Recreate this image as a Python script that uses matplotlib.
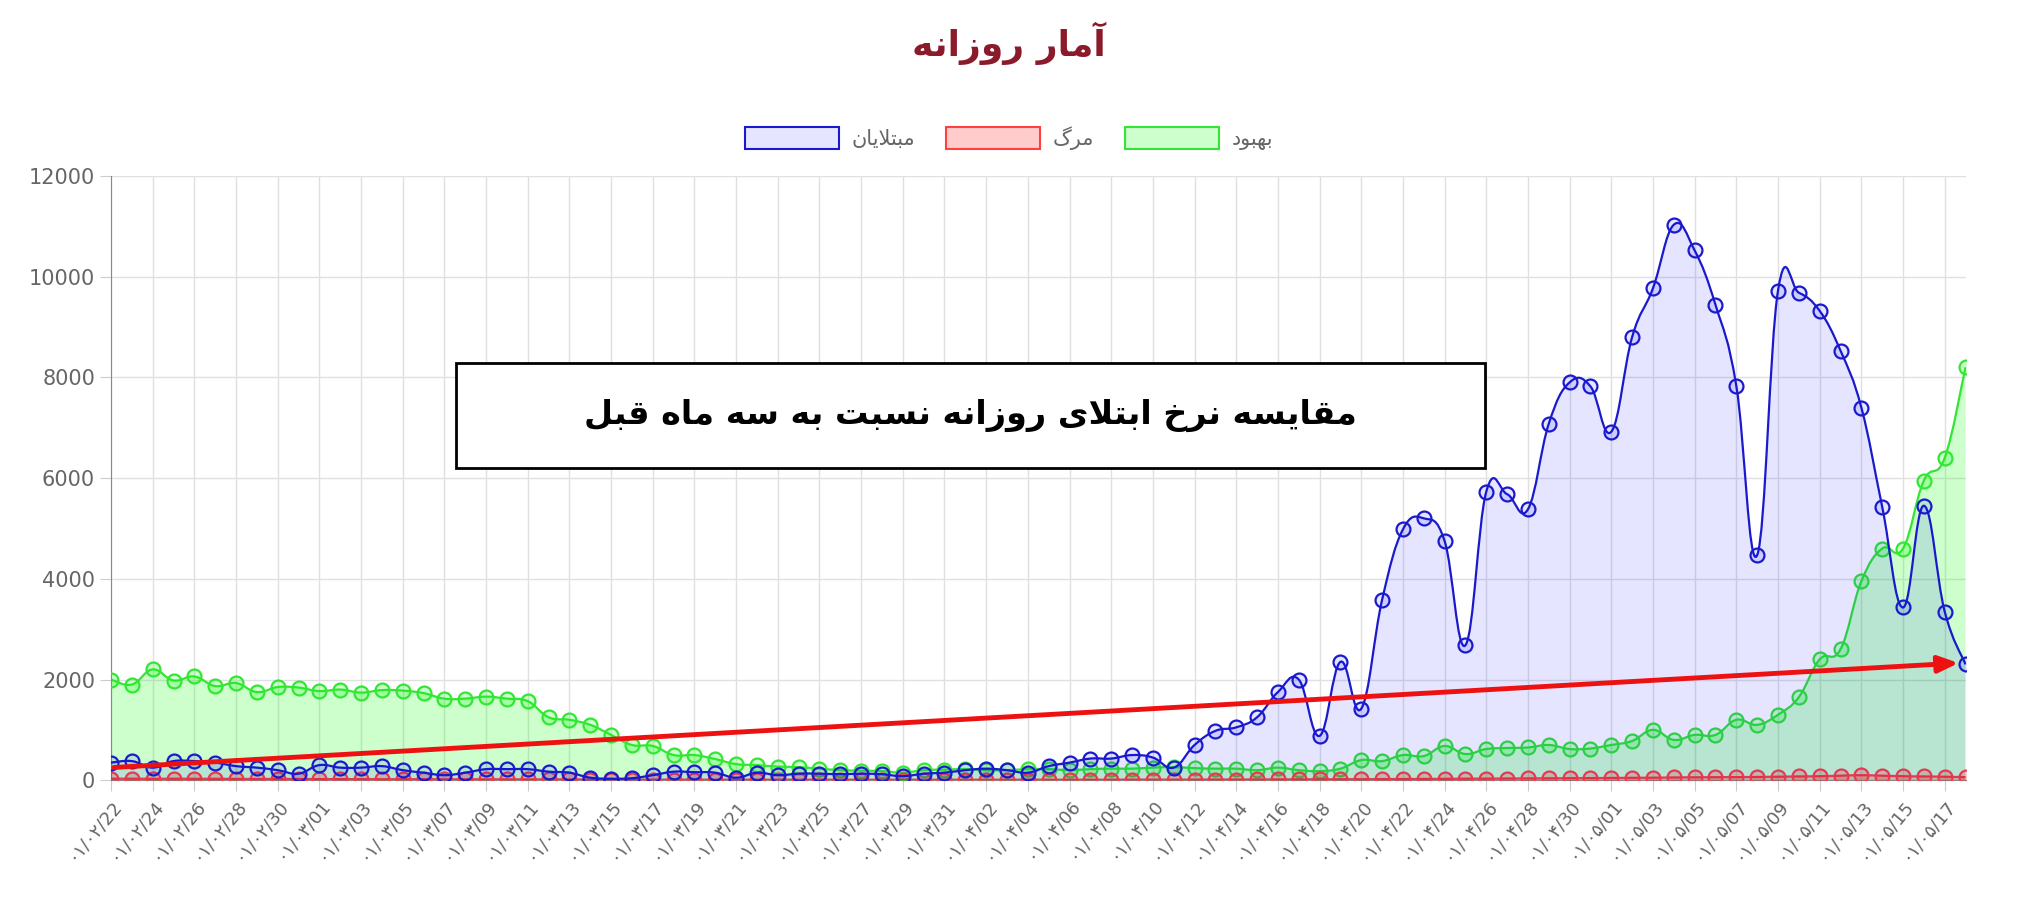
import matplotlib
matplotlib.use("Agg")
import matplotlib.pyplot as plt
from matplotlib.path import Path
from matplotlib.patches import PathPatch, Rectangle
import numpy as np

# ---------------- data ----------------
days = ([f"۰۱/۰۲/{d}" for d in range(22, 32)] + [f"۰۱/۰۳/{d:02d}" for d in range(1, 32)]
        + [f"۰۱/۰۴/{d:02d}" for d in range(1, 32)] + [f"۰۱/۰۵/{d:02d}" for d in range(1, 19)])
infected = [350, 380, 250, 380, 380, 350, 280, 250, 200, 130, 300, 250, 250, 280, 200, 150, 100, 150, 220, 220,
            220, 170, 150, 50, 30, 40, 100, 170, 160, 150, 50, 150, 100, 130, 130, 120, 130, 120, 80, 130,
            150, 200, 230, 200, 150, 280, 350, 430, 430, 500, 450, 250, 700, 980, 1050, 1250, 1750, 2000, 880, 2350, 1420,
            3580, 4980, 5200, 4750, 2680, 5730, 5680, 5380, 7080, 7900, 7820, 6920, 8800, 9770, 11030, 10520, 9440, 7830,
            4470, 9720, 9680, 9320, 8530, 7400, 5430, 3430, 5450, 3350, 2300]
recovered = [2000, 1900, 2200, 1980, 2060, 1870, 1930, 1750, 1850, 1840, 1770, 1800, 1740, 1790, 1780, 1730, 1620,
             1620, 1660, 1620, 1570, 1250, 1200, 1100, 900, 700, 680, 500, 500, 420, 320, 300, 270, 260, 230, 200,
             190, 180, 150, 200, 210, 220, 200, 200, 220, 220, 200, 220, 230, 230, 250, 260, 240, 230, 230, 200, 250, 200,
             180, 230, 400, 380, 500, 480, 680, 520, 620, 640, 650, 700, 620, 630, 700, 780, 1000, 800, 900, 900,
             1200, 1100, 1300, 1650, 2400, 2600, 3950, 4600, 4600, 5950, 6400, 8200]
deaths = [30, 30, 28, 30, 28, 28, 26, 25, 25, 24, 22, 22, 22, 20, 20, 20, 18, 18, 18, 18,
          17, 16, 15, 14, 12, 12, 12, 11, 11, 10, 10, 10, 10, 10, 10, 10, 10, 10, 10, 10, 10,
          10, 10, 10, 10, 10, 10, 10, 10, 12, 12, 12, 12, 14, 14, 15, 16, 18, 18, 20, 20,
          22, 24, 26, 28, 30, 32, 34, 36, 38, 40, 42, 45, 48, 50, 55, 58, 60, 62, 65, 70,
          75, 80, 90, 100, 90, 80, 75, 70, 60]

title_txt = "آمار روزانه"
box_txt = "مقایسه نرخ ابتلای روزانه نسبت به سه ماه قبل"
legend_labels = ["مبتلایان", "مرگ", "بهبود"]

# ---------------- Arabic shaping ----------------
FORMS = {  # iso, fin, ini, med
    'ا': ('\uFE8D', '\uFE8E', None, None), 'آ': ('\uFE81', '\uFE82', None, None),
    'ب': ('\uFE8F', '\uFE90', '\uFE91', '\uFE92'), 'ت': ('\uFE95', '\uFE96', '\uFE97', '\uFE98'),
    'خ': ('\uFEA5', '\uFEA6', '\uFEA7', '\uFEA8'), 'ر': ('\uFEAD', '\uFEAE', None, None),
    'ز': ('\uFEAF', '\uFEB0', None, None), 'س': ('\uFEB1', '\uFEB2', '\uFEB3', '\uFEB4'),
    'ق': ('\uFED5', '\uFED6', '\uFED7', '\uFED8'), 'ل': ('\uFEDD', '\uFEDE', '\uFEDF', '\uFEE0'),
    'م': ('\uFEE1', '\uFEE2', '\uFEE3', '\uFEE4'), 'ن': ('\uFEE5', '\uFEE6', '\uFEE7', '\uFEE8'),
    'ه': ('\uFEE9', '\uFEEA', '\uFEEB', '\uFEEC'), 'و': ('\uFEED', '\uFEEE', None, None),
    'ی': ('\uFEEF', '\uFEF0', '\uFEF3', '\uFEF4'), 'گ': ('\uFB92', '\uFB93', '\uFB94', '\uFB95'),
    'LA': ('\uFEFB', '\uFEFC', None, None),
}

def shape(text):
    units = []
    i = 0
    while i < len(text):
        if text[i] == 'ل' and i + 1 < len(text) and text[i + 1] == 'ا':
            units.append('LA'); i += 2
        else:
            units.append(text[i]); i += 1
    out = []
    for k, u in enumerate(units):
        if u not in FORMS:
            out.append(u); continue
        prev = units[k - 1] if k > 0 else None
        nxt = units[k + 1] if k + 1 < len(units) else None
        jp = prev in FORMS and FORMS[prev][2] is not None
        jn = FORMS[u][2] is not None and nxt in FORMS
        f = FORMS[u]
        if jp and jn: out.append(f[3])
        elif jp: out.append(f[1])
        elif jn: out.append(f[2])
        else: out.append(f[0])
    return ''.join(out)[::-1]

plt.rcParams['font.family'] = ['DejaVu Sans']

# ---------------- plotting ----------------
fig = plt.figure(figsize=(20.18, 9.02), dpi=100)
ax = fig.add_axes([0.055, 0.135, 0.919, 0.67])
x = np.arange(len(days))

def smooth_path(xs, ys, t=0.4):
    verts = [(xs[0], ys[0])]
    codes = [Path.MOVETO]
    n = len(xs)
    for i in range(n - 1):
        p0 = (xs[i - 1], ys[i - 1]) if i > 0 else (xs[i], ys[i])
        p1 = (xs[i], ys[i]); p2 = (xs[i + 1], ys[i + 1])
        p3 = (xs[i + 2], ys[i + 2]) if i + 2 < n else p2
        c1 = (p1[0] + (p2[0] - p0[0]) * t / 2, p1[1] + (p2[1] - p0[1]) * t / 2)
        c2 = (p2[0] - (p3[0] - p1[0]) * t / 2, p2[1] - (p3[1] - p1[1]) * t / 2)
        verts += [c1, c2, p2]
        codes += [Path.CURVE4] * 3
    return verts, codes

series = [
    (recovered, '#33e633', (0.0, 1.0, 0.0, 0.2), 2),
    (deaths, '#ff4040', (1.0, 0.0, 0.0, 0.2), 3),
    (infected, '#1a1acc', (0.0, 0.0, 1.0, 0.1), 4),
]
for vals, lc, fc, z in series:
    v, c = smooth_path(list(x), list(vals))
    fill_v = v + [(x[-1], 0), (x[0], 0), v[0]]
    fill_c = c + [Path.LINETO, Path.LINETO, Path.CLOSEPOLY]
    ax.add_patch(PathPatch(Path(fill_v, fill_c), facecolor=fc, edgecolor='none', zorder=z))
    ax.add_patch(PathPatch(Path(v, c), facecolor='none', edgecolor=lc, lw=1.6, zorder=z + 0.5))
    ax.plot(x, vals, 'o', ms=10, mfc=fc, mec=lc, mew=1.6, zorder=z + 0.6, ls='none')

ax.set_xlim(0, len(days) - 1)
ax.set_ylim(0, 12000)
ax.set_yticks(np.arange(0, 12001, 2000))
ax.set_xticks(x[::2])
ax.set_xticklabels(days[::2], rotation=50, ha='right', rotation_mode='anchor', fontsize=13, color='#666666')
ax.tick_params(axis='y', labelsize=15, colors='#666666', length=8, color='#cccccc')
ax.tick_params(axis='x', length=8, color='#cccccc')
ax.grid(True, color='#e0e0e0', lw=1)
ax.set_axisbelow(True)
for s in ['top', 'right']:
    ax.spines[s].set_visible(False)
for s in ['left', 'bottom']:
    ax.spines[s].set_color('#888888')

# arrow
ax.annotate('', xy=(x[-1] - 0.2, infected[-1] + 30), xytext=(x[0], 250),
            arrowprops=dict(arrowstyle='-|>,head_length=1.2,head_width=0.5', color='#ee1111', lw=3.5), zorder=10)

# text box
ax.add_patch(Rectangle((0.186, 0.516), 0.555, 0.174, transform=ax.transAxes, facecolor='white',
                       edgecolor='black', lw=2, zorder=11))
ax.text(0.4635, 0.603, shape(box_txt), transform=ax.transAxes, ha='center', va='center',
        fontsize=24, fontweight='bold', color='black', zorder=12)

# title
fig.text(0.5, 0.952, shape(title_txt), ha='center', va='center', fontsize=26, fontweight='bold', color='#8b1a2b')

# legend
handles = [Rectangle((0, 0), 1, 1, facecolor=(0, 0, 1, 0.1), edgecolor='#1a1acc', lw=1.5),
           Rectangle((0, 0), 1, 1, facecolor=(1, 0, 0, 0.2), edgecolor='#ff4040', lw=1.5),
           Rectangle((0, 0), 1, 1, facecolor=(0, 1, 0, 0.2), edgecolor='#33e633', lw=1.5)]
leg = fig.legend(handles, [shape(l) for l in legend_labels], loc='center', bbox_to_anchor=(0.5, 0.847),
                 ncol=3, frameon=False, fontsize=15, handlelength=4.5, handleheight=1.3, columnspacing=1.5,
                 handletextpad=0.6, labelcolor='#666666')

fig.savefig('out.png', dpi=100)
